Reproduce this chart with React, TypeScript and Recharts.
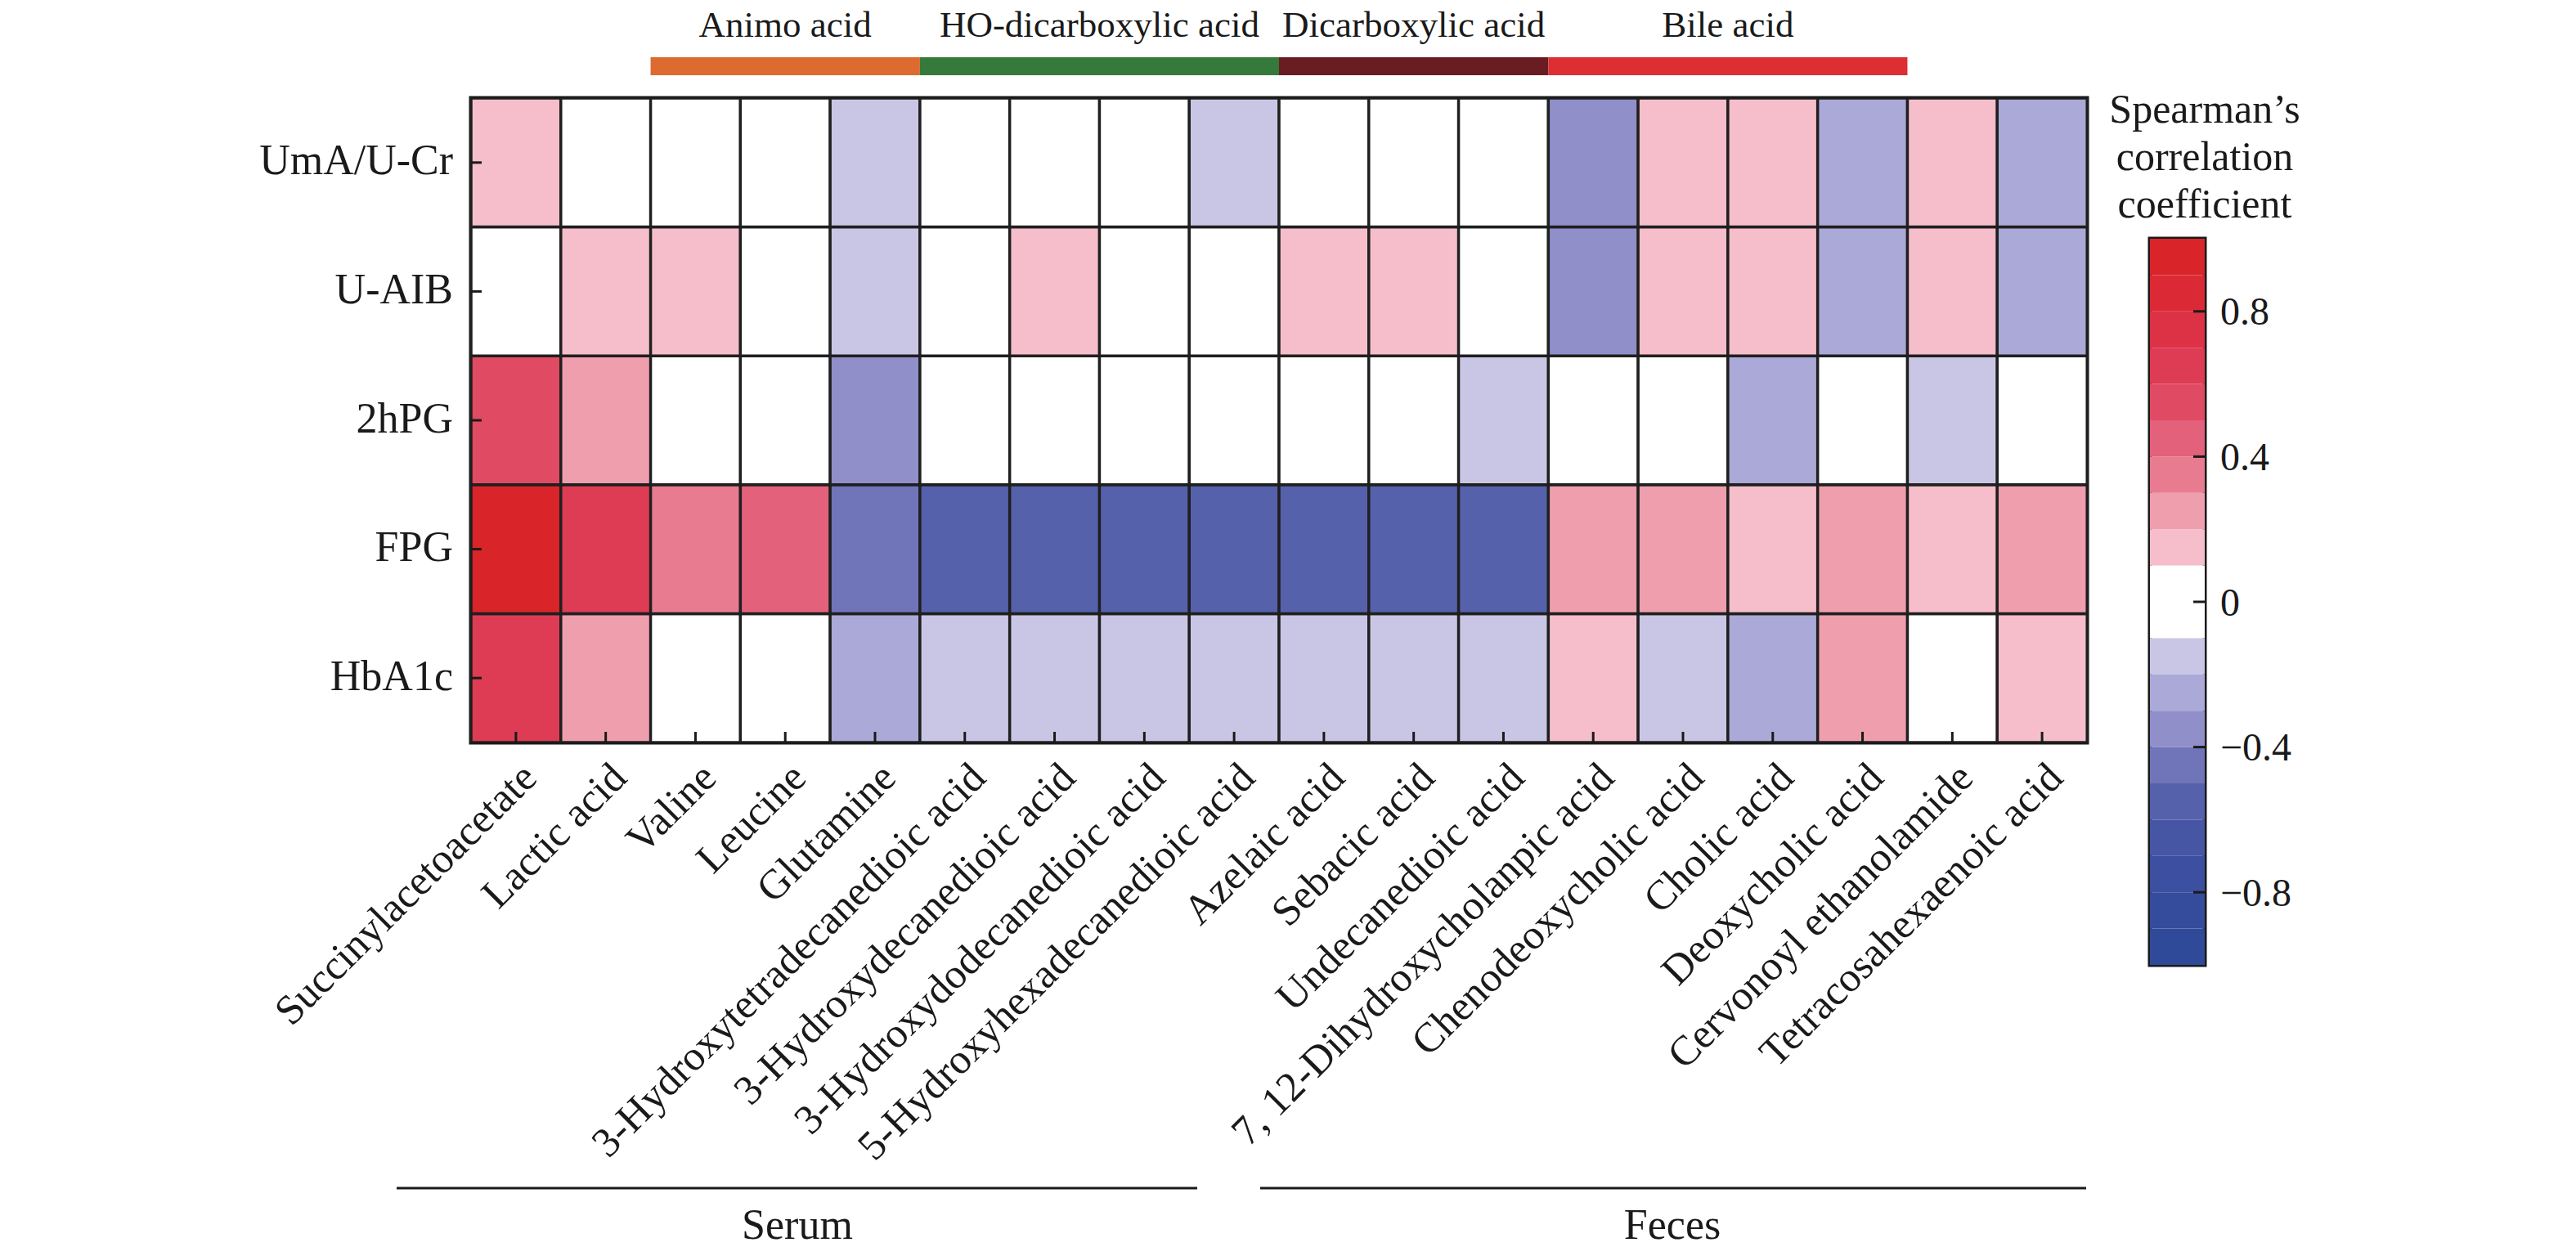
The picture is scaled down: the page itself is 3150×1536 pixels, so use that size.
import React from 'react';
import { BarChart, Bar, Cell, XAxis, YAxis, ReferenceArea } from 'recharts';

// metabolites (x) and clinical indices (y)
const columns = [
  'Succinylacetoacetate',
  'Lactic acid',
  'Valine',
  'Leucine',
  'Glutamine',
  '3-Hydroxytetradecanedioic acid',
  '3-Hydroxydecanedioic acid',
  '3-Hydroxydodecanedioic acid',
  '5-Hydroxyhexadecanedioic acid',
  'Azelaic acid',
  'Sebacic acid',
  'Undecanedioic acid',
  '7, 12-Dihydroxycholanpic acid',
  'Chenodeoxycholic acid',
  'Cholic acid',
  'Deoxycholic acid',
  'Cervonoyl ethanolamide',
  'Tetracosahexaenoic acid',
];
const rowNames = ['UmA/U-Cr', 'U-AIB', '2hPG', 'FPG', 'HbA1c'];

// Spearman's r per row, one value per column
const umaUCr = [0.14, 0, 0, 0, -0.13, 0, 0, 0, -0.14, 0, 0, 0, -0.36, 0.15, 0.16, -0.27, 0.15, -0.26];
const uAib = [0, 0.16, 0.15, 0, -0.14, 0, 0.15, 0, 0, 0.16, 0.15, 0, -0.35, 0.16, 0.15, -0.27, 0.16, -0.26];
const hpg2h = [0.56, 0.27, 0, 0, -0.36, 0, 0, 0, 0, 0, 0, -0.14, 0, 0, -0.26, 0, -0.13, 0];
const fpg = [0.95, 0.66, 0.36, 0.46, -0.45, -0.55, -0.56, -0.55, -0.56, -0.55, -0.56, -0.55, 0.27, 0.28, 0.16, 0.27, 0.17, 0.26];
const hba1c = [0.65, 0.26, 0, 0, -0.25, -0.14, -0.15, -0.14, -0.15, -0.14, -0.15, -0.14, 0.15, -0.15, -0.26, 0.27, 0, 0.15];
const rowValues = [umaUCr, uAib, hpg2h, fpg, hba1c];

// top annotation groups
const groupNames = ['Animo acid', 'HO-dicarboxylic acid', 'Dicarboxylic acid', 'Bile acid'];
const groupStart = ['Valine', '3-Hydroxytetradecanedioic acid', 'Azelaic acid', '7, 12-Dihydroxycholanpic acid'];
const groupEnd = ['Glutamine', '5-Hydroxyhexadecanedioic acid', 'Undecanedioic acid', 'Deoxycholic acid'];
const groupColors = ['#DD6A2E', '#367A3B', '#6A1C23', '#DC2E33'];

// discrete colour scale of the legend
const legendEdges = [-1, -0.9, -0.8, -0.7, -0.6, -0.5, -0.4, -0.3, -0.2, -0.1, 0, 0.1, 0.2, 0.3, 0.4, 0.5, 0.6, 0.7, 0.8, 0.9, 1];
const legendColors = [
  '#304A9A', '#354C9C', '#3D4FA0', '#4755A5', '#5661AC', '#7074B9', '#908FCA', '#ABA9D7', '#C9C6E5', '#FFFFFF',
  '#FFFFFF', '#F5BECA', '#EF9EAD', '#E87B90', '#E3617A', '#E04B63', '#DE3C54', '#DD3246', '#DB2A36', '#D9252A',
];
const legendTicks = [-0.8, -0.4, 0, 0.4, 0.8];
const legendTickLabels = ['\u22120.8', '\u22120.4', '0', '0.4', '0.8'];

const FONT = '"Liberation Serif", "Times New Roman", serif';
const INK = '#1a1a1a';
const GROUP_BAR_Y = [5.178, 5.317];

function colorFor(v: number) {
  for (let k = 0; k < legendColors.length; k++) {
    if (v >= legendEdges[k] && v < legendEdges[k + 1]) return legendColors[k];
  }
  return legendColors[legendColors.length - 1];
}

const heatData = columns.map((name) => {
  const d: any = { name };
  rowNames.forEach((_, r) => {
    d[`s${r}`] = 1;
  });
  return d;
});

const legendRow: any = { name: 'cb' };
legendColors.forEach((_, k) => {
  const w = legendEdges[k + 1] - legendEdges[k];
  legendRow[`b${k}`] = legendEdges[k] >= 0 ? w : -w;
});
const legendData = [legendRow];
// stacking order outward from zero
const legendOrder: number[] = [];
for (let k = 0; k < 10; k++) legendOrder.push(10 + k, 9 - k);

const XTick = (props: any) => {
  const { x, y, payload } = props;
  return (
    <g>
      <line x1={x} x2={x} y1={y} y2={y - 13} stroke={INK} strokeWidth={3} />
      <text
        transform={`translate(${x + 28},${y + 46}) rotate(-45)`}
        textAnchor="end"
        fontSize={51}
        fontFamily={FONT}
        fill={INK}
      >
        {payload.value}
      </text>
    </g>
  );
};

const YTick = (props: any) => {
  const { x, y, payload } = props;
  const name = rowNames[4 - Math.floor(payload.value)];
  return (
    <g>
      <line x1={x} x2={x + 13} y1={y} y2={y} stroke={INK} strokeWidth={3} />
      <text x={x - 22} y={y - 3} textAnchor="end" dominantBaseline="central" fontSize={52} fontFamily={FONT} fill={INK}>
        {name}
      </text>
    </g>
  );
};

const LegendTick = (props: any) => {
  const { x, y, payload } = props;
  const i = legendTicks.indexOf(payload.value);
  return (
    <g>
      <line x1={x - 14} x2={x} y1={y} y2={y} stroke={INK} strokeWidth={3} />
      <text x={x + 19} y={y} textAnchor="start" dominantBaseline="central" fontSize={48} fontFamily={FONT} fill={INK}>
        {legendTickLabels[i]}
      </text>
    </g>
  );
};

export default function App() {
  return (
    <div style={{ position: 'relative', width: 3150, height: 1536, background: '#fff' }}>
      <style>{'body{margin:0}'}</style>
      <div style={{ position: 'absolute', left: 0, top: 0 }}>
        <BarChart
          width={3150}
          height={1536}
          data={heatData}
          margin={{ top: 120, right: 598, bottom: 588, left: 536 }}
          barCategoryGap={0}
          barGap={0}
        >
          <XAxis
            dataKey="name"
            type="category"
            interval={0}
            height={40}
            tickLine={false}
            axisLine={false}
            tickSize={0}
            tickMargin={0}
            tick={<XTick />}
          />
          <YAxis
            type="number"
            domain={[0, 5]}
            ticks={[0.5, 1.5, 2.5, 3.5, 4.5]}
            width={40}
            tickLine={false}
            axisLine={false}
            tickSize={0}
            tickMargin={0}
            tick={<YTick />}
            allowDataOverflow
          />
          {[4, 3, 2, 1, 0].map((r) => (
            <Bar key={r} dataKey={`s${r}`} stackId="heat" isAnimationActive={false}>
              {columns.map((c, i) => (
                <Cell key={c} fill={colorFor(rowValues[r][i])} stroke="#1f1f1f" strokeWidth={3.5} />
              ))}
            </Bar>
          ))}
          <ReferenceArea
            x1={columns[0]}
            x2={columns[columns.length - 1]}
            y1={0}
            y2={5}
            fill="none"
            fillOpacity={0}
            stroke={INK}
            strokeWidth={5}
            ifOverflow="visible"
          />
          {groupNames.map((g, i) => (
            <ReferenceArea
              key={g}
              x1={groupStart[i]}
              x2={groupEnd[i]}
              y1={GROUP_BAR_Y[0]}
              y2={GROUP_BAR_Y[1]}
              fill={groupColors[i]}
              fillOpacity={1}
              stroke="none"
              ifOverflow="visible"
              label={{ value: g, position: 'top', offset: 25, fill: INK, fontSize: 45, fontFamily: FONT }}
            />
          ))}
        </BarChart>
      </div>

      <div style={{ position: 'absolute', left: 2580, top: 0 }}>
        <BarChart
          width={400}
          height={1536}
          data={legendData}
          stackOffset="sign"
          margin={{ top: 292, right: 184, bottom: 356, left: 49 }}
          barCategoryGap={0}
          barGap={0}
        >
          <XAxis dataKey="name" hide />
          <YAxis
            orientation="right"
            type="number"
            domain={[-1, 1]}
            ticks={legendTicks}
            width={100}
            tickLine={false}
            axisLine={false}
            tickSize={0}
            tickMargin={0}
            tick={<LegendTick />}
            allowDataOverflow
          />
          {legendOrder.map((k) => (
            <Bar key={k} dataKey={`b${k}`} stackId="cb" fill={legendColors[k]} isAnimationActive={false} />
          ))}
          <ReferenceArea x1="cb" x2="cb" y1={-1} y2={1} fill="none" fillOpacity={0} stroke={INK} strokeWidth={5} ifOverflow="visible" />
        </BarChart>
      </div>

      <svg width={3150} height={1536} style={{ position: 'absolute', left: 0, top: 0, pointerEvents: 'none' }}>
        <g fontFamily={FONT} fill={INK}>
          <text x={2696} y={150} textAnchor="middle" fontSize={50}>Spearman’s</text>
          <text x={2696} y={208} textAnchor="middle" fontSize={50}>correlation</text>
          <text x={2696} y={266} textAnchor="middle" fontSize={50}>coefficient</text>
          <line x1={485} x2={1464} y1={1453} y2={1453} stroke={INK} strokeWidth={3} />
          <line x1={1541} x2={2551} y1={1453} y2={1453} stroke={INK} strokeWidth={3} />
          <text x={975} y={1515} textAnchor="middle" fontSize={52}>Serum</text>
          <text x={2045} y={1515} textAnchor="middle" fontSize={52}>Feces</text>
        </g>
      </svg>
    </div>
  );
}
